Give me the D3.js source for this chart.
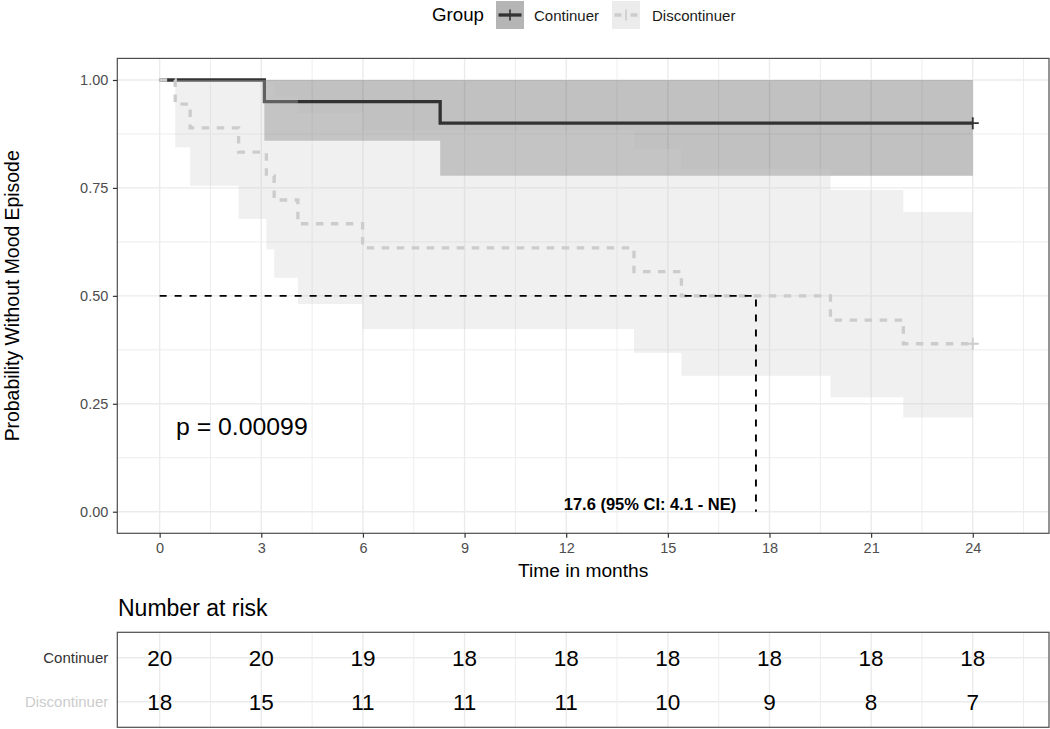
<!DOCTYPE html>
<html><head><meta charset="utf-8">
<script src="https://cdn.jsdelivr.net/npm/d3@7"></script>
<style>
html,body{margin:0;padding:0;background:#fff;}
text{font-family:"Liberation Sans",Arial,Helvetica,sans-serif;}
</style></head>
<body>
<svg id="chart" width="1050" height="729"></svg>
<script>
// ---------------- data ----------------
const groups = ["Continuer", "Discontinuer"];
const timeTicks = [0, 3, 6, 9, 12, 15, 18, 21, 24];
const yTicks = [0, 0.25, 0.5, 0.75, 1];

const contTime  = [0, 3.09, 8.28, 24];
const contSurv  = [1, 0.95, 0.90, 0.90];
const contLower = [1, 0.859, 0.778, 0.778];
const contUpper = [1, 1, 1, 1];

const discTime  = [0, 0.46, 0.90, 2.33, 3.15, 3.38, 4.08, 5.99, 14.0, 15.4, 19.8, 21.95, 24];
const discSurv  = [1, 0.944, 0.889, 0.833, 0.778, 0.722, 0.667, 0.611, 0.556, 0.500, 0.444, 0.389, 0.389];
const discLower = [1, 0.844, 0.755, 0.678, 0.608, 0.542, 0.481, 0.423, 0.368, 0.315, 0.265, 0.218, 0.218];
const discUpper = [1, 1, 1, 1, 0.996, 0.962, 0.924, 0.883, 0.840, 0.794, 0.745, 0.694, 0.694];

const censorCont = [24, 0.90];
const censorDisc = [24, 0.389];

const riskCont = [20, 20, 19, 18, 18, 18, 18, 18, 18];
const riskDisc = [18, 15, 11, 11, 11, 10, 9, 8, 7];

const medianTime = 17.6;
const medianLabel = "17.6 (95% CI: 4.1 - NE)";
const pLabel = "p = 0.00099";

// ---------------- styles ----------------
const colCont = "#333333", colDisc = "#cccccc";
const gridCol = "#ebebeb";
const svg = d3.select("#chart");

const x = d3.scaleLinear().domain([-1.25, 26.25]).range([117.3, 1049]);
const y = d3.scaleLinear().domain([-0.05, 1.05]).range([533.3, 58.4]);

const pL = 117.3, pR = 1049, pT = 58.4, pB = 533.3;

// grid
const minorX = d3.range(-1.5, 27, 1.5).filter(v => v > -1.25 && v < 26.25 && !timeTicks.includes(v));
const minorY = [0.125, 0.375, 0.625, 0.875];
const g = svg.append("g");
g.selectAll(".mx").data(minorX).join("line")
  .attr("x1", d => x(d)).attr("x2", d => x(d)).attr("y1", pT).attr("y2", pB)
  .attr("stroke", gridCol).attr("stroke-width", 0.9);
g.selectAll(".my").data(minorY).join("line")
  .attr("y1", d => y(d)).attr("y2", d => y(d)).attr("x1", pL).attr("x2", pR)
  .attr("stroke", gridCol).attr("stroke-width", 0.9);
g.selectAll(".Mx").data(timeTicks).join("line")
  .attr("x1", d => x(d)).attr("x2", d => x(d)).attr("y1", pT).attr("y2", pB)
  .attr("stroke", gridCol).attr("stroke-width", 1.4);
g.selectAll(".My").data(yTicks).join("line")
  .attr("y1", d => y(d)).attr("y2", d => y(d)).attr("x1", pL).attr("x2", pR)
  .attr("stroke", gridCol).attr("stroke-width", 1.4);

// curves
const line = d3.line().curve(d3.curveStepAfter).x(d => x(d[0])).y(d => y(d[1]));
const area = d3.area().curve(d3.curveStepAfter).x(d => x(d[0])).y0(d => y(d[1])).y1(d => y(d[2]));

const contPts = contTime.map((t, i) => [t, contSurv[i]]);
const discPts = discTime.map((t, i) => [t, discSurv[i]]);
svg.append("path").attr("d", line(contPts)).attr("fill", "none")
  .attr("stroke", colCont).attr("stroke-width", 3.3);
svg.append("path").attr("d", line(discPts)).attr("fill", "none")
  .attr("stroke", colDisc).attr("stroke-width", 3.3).attr("stroke-dasharray", "7.5,7.5");

svg.append("path").attr("d", area(contTime.map((t, i) => [t, contLower[i], contUpper[i]])))
  .attr("fill", colCont).attr("fill-opacity", 0.3);
svg.append("path").attr("d", area(discTime.map((t, i) => [t, discLower[i], discUpper[i]])))
  .attr("fill", colDisc).attr("fill-opacity", 0.3);

// censor marks
function plus(pt, col) {
  const cx = x(pt[0]), cy = y(pt[1]);
  svg.append("path").attr("d", `M${cx-6},${cy}H${cx+6}M${cx},${cy-6}V${cy+6}`)
    .attr("stroke", col).attr("stroke-width", 1.8).attr("fill", "none");
}
plus(censorCont, colCont);
plus(censorDisc, colDisc);

// median lines
svg.append("path").attr("d", `M${x(0)},${y(0.5)}H${x(medianTime)}V${y(0)}`)
  .attr("fill", "none").attr("stroke", "#000").attr("stroke-width", 1.9).attr("stroke-dasharray", "7,8");

svg.append("text").attr("x", x(medianTime) - 106).attr("y", 509.5).attr("text-anchor", "middle")
  .attr("font-weight", "bold").attr("font-size", 16.5).attr("fill", "#000").text(medianLabel);

svg.append("text").attr("x", 176).attr("y", 435).attr("font-size", 24.8).attr("fill", "#000").text(pLabel);

// panel border
svg.append("rect").attr("x", pL).attr("y", pT).attr("width", pR - pL).attr("height", pB - pT)
  .attr("fill", "none").attr("stroke", "#4d4d4d").attr("stroke-width", 1.2);

// axes
const yAxis = svg.append("g").attr("transform", `translate(${pL},0)`)
  .call(d3.axisLeft(y).tickValues(yTicks).tickFormat(d3.format(".2f")).tickSize(4.4).tickPadding(4.6));
const xAxis = svg.append("g").attr("transform", `translate(0,${pB})`)
  .call(d3.axisBottom(x).tickValues(timeTicks).tickSize(4.4).tickPadding(5));
[yAxis, xAxis].forEach(a => {
  a.select(".domain").remove();
  a.selectAll(".tick line").attr("stroke", "#333").attr("stroke-width", 1.2);
  a.selectAll(".tick text").attr("fill", "#4d4d4d").attr("font-size", 14.5)
    .attr("font-family", '"Liberation Sans",Arial,sans-serif');
});

// axis titles
svg.append("text").attr("transform", `translate(19,${(pT + pB) / 2}) rotate(-90)`)
  .attr("text-anchor", "middle").attr("font-size", 19.4).attr("fill", "#000")
  .text("Probability Without Mood Episode");
svg.append("text").attr("x", (pL + pR) / 2).attr("y", 577).attr("text-anchor", "middle")
  .attr("font-size", 19.2).attr("fill", "#000").text("Time in months");

// legend
const leg = svg.append("g");
leg.append("text").attr("x", 432).attr("y", 20.7).attr("font-size", 18.7).attr("fill", "#000").text("Group");
leg.append("rect").attr("x", 496).attr("y", 1).attr("width", 28).attr("height", 28).attr("fill", "#b5b5b5");
leg.append("line").attr("x1", 498.5).attr("x2", 521.5).attr("y1", 15).attr("y2", 15)
  .attr("stroke", colCont).attr("stroke-width", 3.3);
leg.append("line").attr("x1", 510).attr("x2", 510).attr("y1", 9.5).attr("y2", 20.5)
  .attr("stroke", colCont).attr("stroke-width", 1.6);
leg.append("text").attr("x", 534).attr("y", 20.7).attr("font-size", 15).attr("fill", "#1a1a1a").text(groups[0]);
leg.append("rect").attr("x", 612).attr("y", 1).attr("width", 28).attr("height", 28).attr("fill", "#ececec");
leg.append("line").attr("x1", 614.5).attr("x2", 637.5).attr("y1", 15).attr("y2", 15)
  .attr("stroke", colDisc).attr("stroke-width", 3.3).attr("stroke-dasharray", "7,9,7");
leg.append("line").attr("x1", 626).attr("x2", 626).attr("y1", 9.5).attr("y2", 20.5)
  .attr("stroke", colDisc).attr("stroke-width", 1.6);
leg.append("text").attr("x", 652).attr("y", 20.7).attr("font-size", 15).attr("fill", "#1a1a1a").text(groups[1]);

// risk table
const tT = 632.3, tB = 727.3;
const rowY = [657.7, 701.7];
svg.append("text").attr("x", 118).attr("y", 616).attr("font-size", 23).attr("fill", "#000").text("Number at risk");
const rt = svg.append("g");
rt.selectAll(".mx").data(minorX).join("line")
  .attr("x1", d => x(d)).attr("x2", d => x(d)).attr("y1", tT).attr("y2", tB)
  .attr("stroke", gridCol).attr("stroke-width", 0.9);
rt.selectAll(".Mx").data(timeTicks).join("line")
  .attr("x1", d => x(d)).attr("x2", d => x(d)).attr("y1", tT).attr("y2", tB)
  .attr("stroke", gridCol).attr("stroke-width", 1.4);
rt.selectAll(".ry").data(rowY).join("line")
  .attr("y1", d => d).attr("y2", d => d).attr("x1", pL).attr("x2", pR)
  .attr("stroke", gridCol).attr("stroke-width", 1.4);
[riskCont, riskDisc].forEach((arr, r) => {
  rt.selectAll(".n" + r).data(arr).join("text")
    .attr("x", (d, i) => x(timeTicks[i])).attr("y", rowY[r] + 8)
    .attr("text-anchor", "middle").attr("font-size", 22.5).attr("fill", "#000").text(d => d);
});
rt.append("rect").attr("x", pL).attr("y", tT).attr("width", pR - pL).attr("height", tB - tT)
  .attr("fill", "none").attr("stroke", "#4d4d4d").attr("stroke-width", 1.2);
rt.append("text").attr("x", 108.3).attr("y", rowY[0] + 5.4).attr("text-anchor", "end")
  .attr("font-size", 15).attr("fill", colCont).text(groups[0]);
rt.append("text").attr("x", 108.3).attr("y", rowY[1] + 5.4).attr("text-anchor", "end")
  .attr("font-size", 15).attr("fill", colDisc).text(groups[1]);
</script>
</body></html>
